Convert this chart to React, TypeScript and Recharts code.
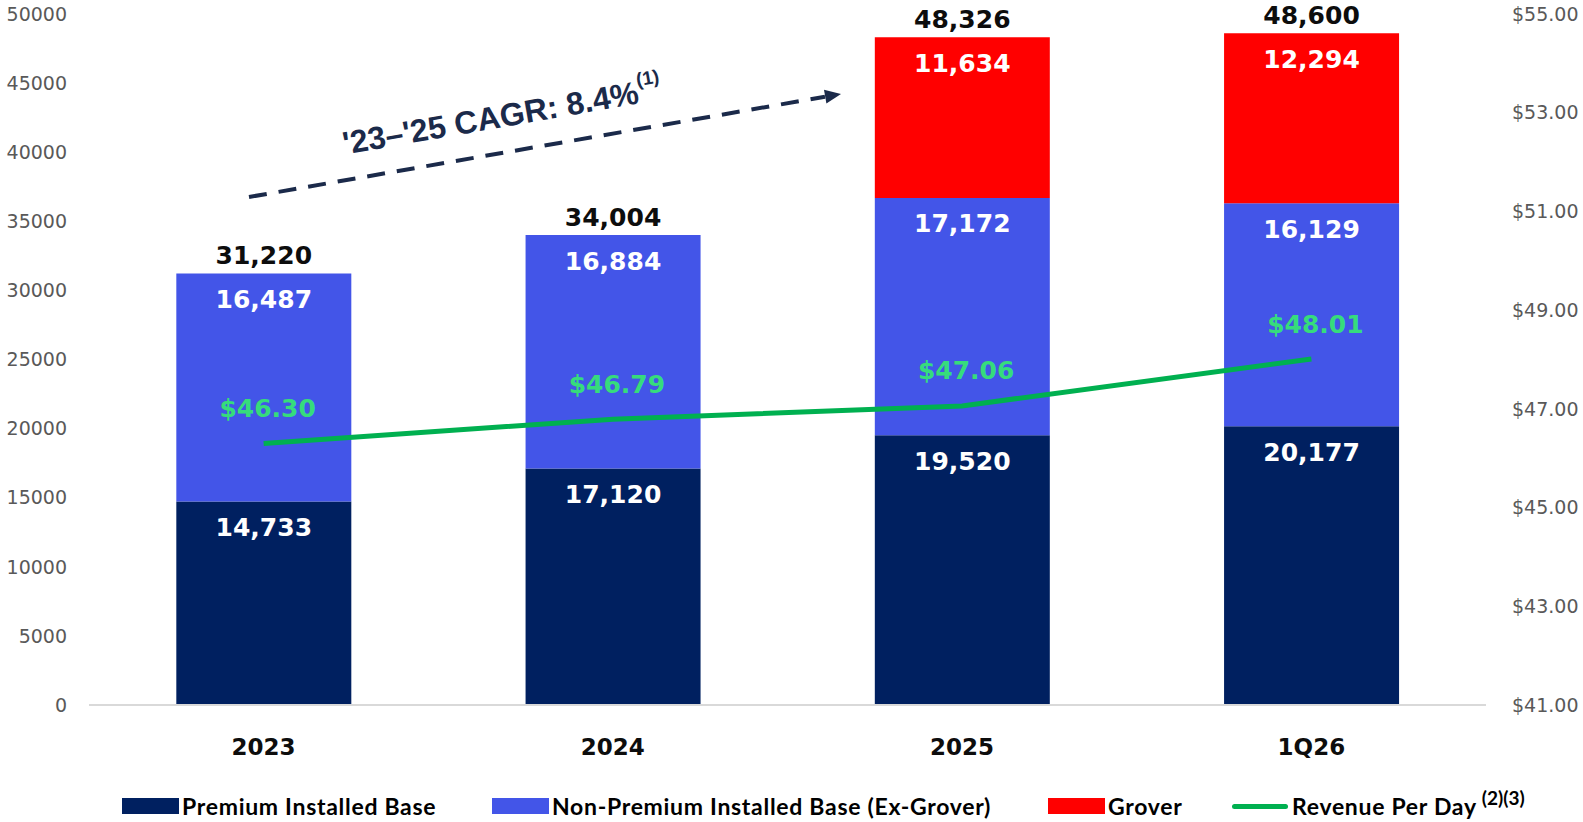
import { ComposedChart, Bar, Line, XAxis, YAxis, LabelList } from 'recharts';

const categories = ['2023', '2024', '2025', '1Q26'];
const premiumBase = [14733, 17120, 19520, 20177];
const nonPremiumBase = [16487, 16884, 17172, 16129];
const groverBase = [null, null, 11634, 12294];
const totals = [31220, 34004, 48326, 48600];
const revenuePerDay = [46.3, 46.79, 47.06, 48.01];
const leftTicks = [0, 5000, 10000, 15000, 20000, 25000, 30000, 35000, 40000, 45000, 50000];
const rightTicks = [41, 43, 45, 47, 49, 51, 53, 55];

const data = categories.map((period, i) => ({
  period,
  premium: premiumBase[i],
  nonPremium: nonPremiumBase[i],
  grover: groverBase[i],
  rpd: revenuePerDay[i],
}));

const NAVY = '#002060';
const BLUE = '#4355E8';
const RED = '#FF0000';
const GREEN = '#00B050';
const LABEL_GREEN = '#36DC7C';
const ANNOT = '#1B2A4A';

const boldFont = { fontFamily: 'DejaVu Sans', fontWeight: 700, fontSize: 25 };
const fmt = (v: number) => v.toLocaleString('en-US');

const box = (props: any) => {
  const vb = props.viewBox || {};
  return {
    x: props.x ?? vb.x,
    y: props.y ?? vb.y,
    width: props.width ?? vb.width ?? 0,
  };
};

// white number inside a segment; total above it when the segment is on top
const segmentLabel = (values: (number | null)[], showTotal: (i: number) => boolean) => (props: any) => {
  const { x, y, width } = box(props);
  const v = props.value;
  if (v == null) return null;
  const i = values.indexOf(v);
  const cx = x + width / 2;
  return (
    <g>
      <text x={cx} y={y + 26} fill="#fff" textAnchor="middle" dominantBaseline="central" style={boldFont}>
        {fmt(v)}
      </text>
      {i >= 0 && showTotal(i) && (
        <text x={cx} y={y - 18} fill="#0d0d0d" textAnchor="middle" dominantBaseline="central" style={boldFont}>
          {fmt(totals[i])}
        </text>
      )}
    </g>
  );
};

const rpdLabel = (props: any) => {
  const { x, y } = box(props);
  const v = props.value;
  return (
    <text x={x + 4} y={y - 35} fill={LABEL_GREEN} textAnchor="middle" dominantBaseline="central" style={{ ...boldFont, fontSize: 25 }}>
      {`$${Number(v).toFixed(2)}`}
    </text>
  );
};

function Legend() {
  const items = [
    { left: 122, label: 'Premium Installed Base', color: NAVY, type: 'box' },
    { left: 492, label: 'Non-Premium Installed Base (Ex-Grover)', color: BLUE, type: 'box' },
    { left: 1048, label: 'Grover', color: RED, type: 'box' },
    { left: 1232, label: 'Revenue Per Day', color: GREEN, type: 'line', sup: '(2)(3)' },
  ];
  return (
    <div style={{ position: 'absolute', top: 792, left: 0, width: 1583, height: 28 }}>
      {items.map((it) => (
        <div
          key={it.label}
          style={{
            position: 'absolute',
            left: it.left,
            top: 0,
            height: 28,
            display: 'flex',
            alignItems: 'center',
            fontFamily: 'Lato',
            fontWeight: 700,
            fontSize: 23,
            letterSpacing: 0.7,
            color: '#000',
            whiteSpace: 'nowrap',
          }}
        >
          {it.type === 'box' ? (
            <span style={{ display: 'inline-block', width: 57, height: 16, background: it.color, marginRight: 3 }} />
          ) : (
            <span style={{ display: 'inline-block', width: 56, height: 5, borderRadius: 3, background: it.color, marginRight: 4 }} />
          )}
          <span>{it.label}</span>
          {it.sup && <span style={{ fontSize: 19, position: 'relative', top: -9, marginLeft: 5, letterSpacing: 0 }}>{it.sup}</span>}
        </div>
      ))}
    </div>
  );
}

function CagrArrow() {
  return (
    <svg width={1583} height={822} style={{ position: 'absolute', left: 0, top: 0, pointerEvents: 'none' }}>
      <line x1={249} y1={197} x2={825} y2={96.7} stroke={ANNOT} strokeWidth={4} strokeDasharray="18 12" />
      <polygon points="841,94 826.4,103.6 824,89.8" fill={ANNOT} />
      <text
        transform="translate(502,116) rotate(-9.87)"
        textAnchor="middle"
        dominantBaseline="central"
        fill={ANNOT}
        style={{ fontFamily: 'Liberation Sans', fontWeight: 700, fontSize: 32 }}
      >
        '23–'25 CAGR: 8.4%
        <tspan dy={-13} fontSize={19}>
          (1)
        </tspan>
      </text>
    </svg>
  );
}

export default function App() {
  const tickStyle = { fontFamily: 'DejaVu Sans', fontSize: 19, fill: '#595959' };
  return (
    <div style={{ position: 'absolute', left: 0, top: 0, width: 1583, height: 822, background: '#fff' }}>
      <ComposedChart width={1583} height={770} data={data} margin={{ top: 14, right: 0, bottom: 0, left: 0 }} barCategoryGap="25%">
        <XAxis
          dataKey="period"
          height={65}
          axisLine={{ stroke: '#d9d9d9', strokeWidth: 2 }}
          tickLine={false}
          tickMargin={28}
          tick={{ fontFamily: 'DejaVu Sans', fontWeight: 700, fontSize: 23, fill: '#0d0d0d' }}
        />
        <YAxis
          yAxisId="left"
          width={89}
          domain={[0, 50000]}
          ticks={leftTicks}
          axisLine={false}
          tickLine={false}
          tickMargin={16}
          tick={tickStyle}
        />
        <YAxis
          yAxisId="right"
          orientation="right"
          width={97}
          domain={[41, 55]}
          ticks={rightTicks}
          axisLine={false}
          tickLine={false}
          tickMargin={20}
          tick={{ ...tickStyle, textAnchor: 'start' }}
          tickFormatter={(v: number) => `$${v.toFixed(2)}`}
        />
        <Bar yAxisId="left" dataKey="premium" stackId="a" fill={NAVY} isAnimationActive={false}>
          <LabelList dataKey="premium" content={segmentLabel(premiumBase, () => false)} />
        </Bar>
        <Bar yAxisId="left" dataKey="nonPremium" stackId="a" fill={BLUE} isAnimationActive={false}>
          <LabelList dataKey="nonPremium" content={segmentLabel(nonPremiumBase, (i) => groverBase[i] == null)} />
        </Bar>
        <Bar yAxisId="left" dataKey="grover" stackId="a" fill={RED} isAnimationActive={false}>
          <LabelList dataKey="grover" content={segmentLabel(groverBase, () => true)} />
        </Bar>
        <Line
          yAxisId="right"
          dataKey="rpd"
          type="linear"
          stroke={GREEN}
          strokeWidth={5}
          dot={false}
          activeDot={false}
          isAnimationActive={false}
        >
          <LabelList dataKey="rpd" content={rpdLabel} />
        </Line>
      </ComposedChart>
      <CagrArrow />
      <Legend />
    </div>
  );
}
